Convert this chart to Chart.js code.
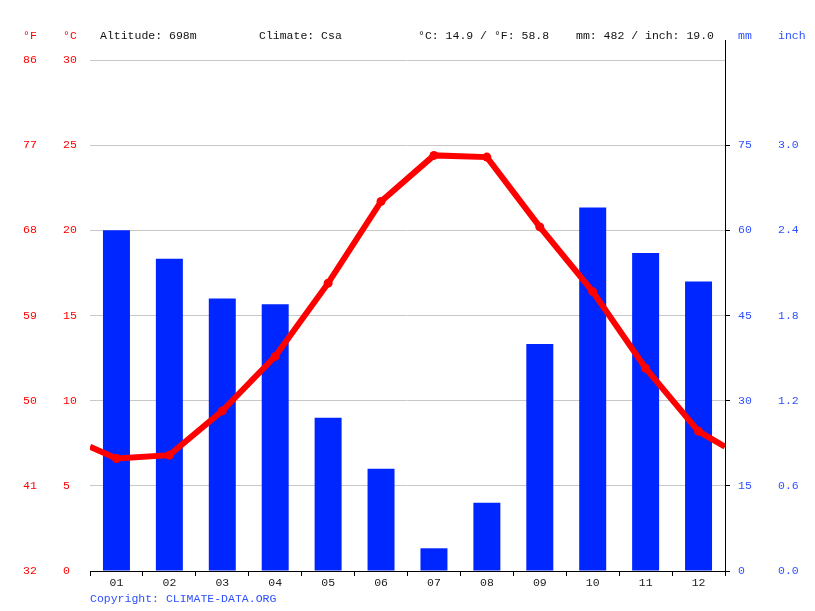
<!DOCTYPE html>
<html lang="en">
<head>
    <meta charset="UTF-8">
    <title>Climate chart</title>
    <script src="https://cdn.jsdelivr.net/npm/chart.js"></script>
    <style>
        body { margin: 0; background: #fff; }
        #wrap { width: 815px; height: 611px; }
    </style>
</head>
<body>
    <div id="wrap"><canvas id="climateChart" width="815" height="611"></canvas></div>

    <script>
        // values
        const months = ["01", "02", "03", "04", "05", "06", "07", "08", "09", "10", "11", "12"];
        const tempC = [6.6, 6.8, 9.4, 12.6, 16.9, 21.7, 24.4, 24.3, 20.2, 16.4, 11.9, 8.2];
        const precipMm = [60, 55, 48, 47, 27, 18, 4, 12, 40, 64, 56, 51];
        const tempEdges = [7.3, 7.3]; // where the line leaves the plot on the left / right
        const headerTexts = ["Altitude: 698m", "Climate: Csa", "°C: 14.9 / °F: 58.8", "mm: 482 / inch: 19.0"];

        const RED = "#ff0000";
        const BLUE = "#0026ff";
        const LABEL_BLUE = "#2f50ff";
        const FONT = "'Liberation Mono', 'DejaVu Sans Mono', monospace";

        Chart.defaults.font.family = FONT;
        Chart.defaults.font.size = 11.5;

        // line points on a hidden linear axis so the line can run to both edges
        const linePoints = [{ x: 0.5, y: tempEdges[0] }];
        tempC.forEach((t, i) => linePoints.push({ x: i + 1, y: t }));
        linePoints.push({ x: 12.5, y: tempEdges[1] });
        const pointSizes = linePoints.map((p, i) => (i === 0 || i === linePoints.length - 1) ? 0 : 4.5);

        const extras = {
            id: "extras",
            afterDraw(chart) {
                const ctx = chart.ctx;
                const area = chart.chartArea;
                ctx.save();
                // right axis line runs above the plot
                ctx.strokeStyle = "#000";
                ctx.lineWidth = 1;
                ctx.beginPath();
                ctx.moveTo(area.right + 0.5, 40);
                ctx.lineTo(area.right + 0.5, area.top);
                ctx.stroke();

                ctx.font = "11.5px " + FONT;
                ctx.textBaseline = "middle";
                ctx.textAlign = "left";
                ctx.fillStyle = RED;
                ctx.fillText("°F", 23, 36);
                ctx.fillText("°C", 63, 36);
                ctx.fillStyle = "#111";
                const xs = [100, 259, 418, 576];
                headerTexts.forEach((t, i) => ctx.fillText(t, xs[i], 36));
                ctx.fillStyle = LABEL_BLUE;
                ctx.fillText("mm", 738, 36);
                ctx.fillText("inch", 778, 36);
                ctx.fillText("Copyright: CLIMATE-DATA.ORG", 90, 599);
                ctx.restore();
            }
        };

        const dropTop = (max) => (scale) => { scale.ticks = scale.ticks.filter(t => t.value < max); };

        const ctx = document.getElementById("climateChart").getContext("2d");
        new Chart(ctx, {
            data: {
                labels: months,
                datasets: [
                    {
                        type: "line",
                        data: linePoints,
                        xAxisID: "xl",
                        yAxisID: "y",
                        borderColor: RED,
                        backgroundColor: RED,
                        borderWidth: 6,
                        pointRadius: pointSizes,
                        pointBorderWidth: 0,
                        tension: 0,
                        order: 0
                    },
                    {
                        type: "bar",
                        data: precipMm,
                        xAxisID: "x",
                        yAxisID: "y1",
                        backgroundColor: BLUE,
                        grouped: false,
                        categoryPercentage: 1,
                        barPercentage: 0.51,
                        order: 1
                    }
                ]
            },
            options: {
                responsive: false,
                animation: false,
                layout: { padding: { left: 23, right: 0, top: 60, bottom: 0 } },
                plugins: { legend: { display: false }, tooltip: { enabled: false } },
                scales: {
                    x: {
                        type: "category",
                        offset: true,
                        afterFit(s) { s.height = 40; },
                        grid: { display: true, drawOnChartArea: false, offset: true, color: "#000", tickLength: 5 },
                        border: { display: true, color: "#000" },
                        ticks: { color: "#222", padding: 0, maxRotation: 0 }
                    },
                    xl: { type: "linear", display: false, min: 0.5, max: 12.5 },
                    y: {
                        position: "left",
                        weight: 0,
                        min: 0, max: 30,
                        afterFit(s) { s.width = 27; },
                        ticks: { stepSize: 5, color: RED, crossAlign: "far", padding: 0 },
                        grid: { color: "#c8c8c8", drawTicks: false },
                        border: { display: false }
                    },
                    yF: {
                        position: "left",
                        weight: 1,
                        min: 32, max: 86,
                        afterFit(s) { s.width = 40; },
                        ticks: { stepSize: 9, color: RED, crossAlign: "far", padding: 0 },
                        grid: { display: false },
                        border: { display: false }
                    },
                    y1: {
                        position: "right",
                        weight: 0,
                        min: 0, max: 90,
                        afterFit(s) { s.width = 45; },
                        afterBuildTicks: dropTop(90),
                        ticks: { stepSize: 15, color: LABEL_BLUE, crossAlign: "near", padding: 8 },
                        grid: { display: true, drawOnChartArea: false, color: "#000", tickLength: 5 },
                        border: { display: true, color: "#000" }
                    },
                    y2: {
                        position: "right",
                        weight: 1,
                        min: 0, max: 90,
                        afterFit(s) { s.width = 45; },
                        afterBuildTicks: dropTop(90),
                        ticks: {
                            stepSize: 15, color: LABEL_BLUE, crossAlign: "near", padding: 0,
                            callback: (v) => (v / 25.4).toFixed(1)
                        },
                        grid: { display: false },
                        border: { display: false }
                    }
                }
            },
            plugins: [extras]
        });
    </script>
</body>
</html>
